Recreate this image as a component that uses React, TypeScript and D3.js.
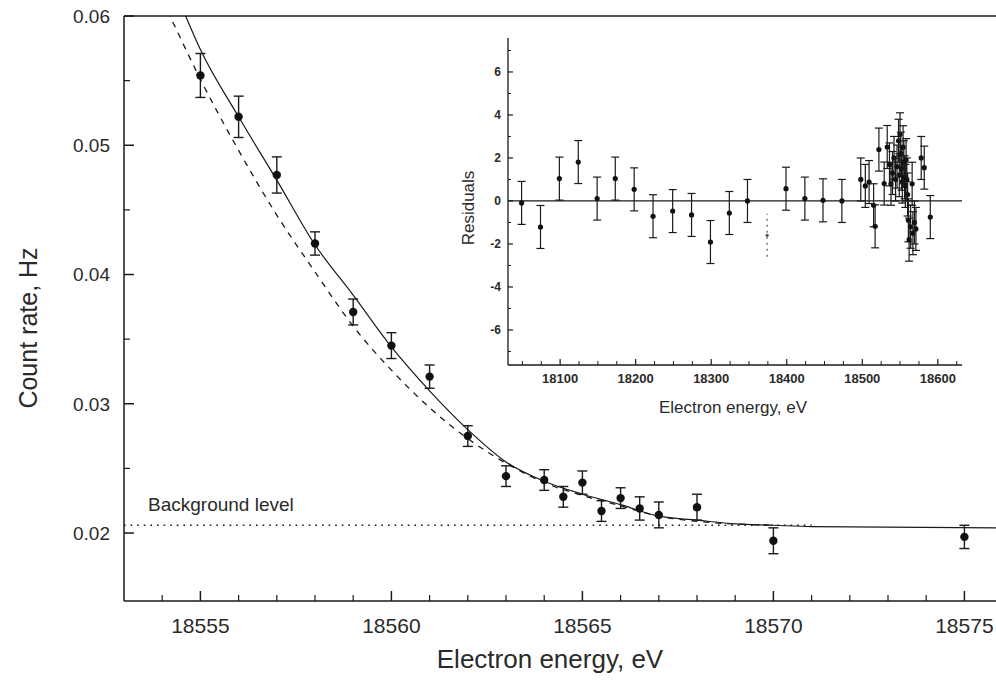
import * as d3 from 'd3';
import React from 'react';

// main panel: measured count rate near the endpoint
const energies = [18555, 18556, 18557, 18558, 18559, 18560, 18561, 18562, 18563, 18564, 18564.5, 18565, 18565.5, 18566, 18566.5, 18567, 18568, 18570, 18575];
const rates = [0.0554, 0.0522, 0.0477, 0.0424, 0.0371, 0.0345, 0.0321, 0.0275, 0.0244, 0.0241, 0.0228, 0.0239, 0.0217, 0.0227, 0.0219, 0.0214, 0.022, 0.0194, 0.0197];
const rateErrors = [0.0017, 0.0016, 0.0014, 0.0009, 0.001, 0.001, 0.0009, 0.0008, 0.0008, 0.0008, 0.0008, 0.0009, 0.0008, 0.0008, 0.0009, 0.001, 0.001, 0.001, 0.0009];

// fitted curves (solid = best fit, dashed = zero mass)
const fitEnergies = [18554.5, 18555, 18556, 18557, 18558, 18559, 18560, 18561, 18562, 18563, 18564, 18565, 18566, 18567, 18568, 18569, 18570, 18571, 18576];
const fitRates = [0.0608, 0.0574, 0.0522, 0.0473, 0.0423, 0.0384, 0.0344, 0.031, 0.028, 0.0255, 0.024, 0.023, 0.0222, 0.0213, 0.021, 0.0207, 0.0206, 0.0205, 0.0204];
const zeroMassEnergies = [18554.0, 18554.2, 18555, 18556, 18557, 18558, 18559, 18560, 18561, 18562, 18563, 18564, 18565, 18566, 18567, 18568, 18569, 18570];
const zeroMassRates = [0.0612, 0.06, 0.0551, 0.0496, 0.0446, 0.0402, 0.036, 0.0326, 0.0297, 0.0273, 0.0254, 0.0239, 0.0229, 0.0221, 0.0213, 0.0209, 0.0207, 0.0206];

const backgroundLevel = 0.0206;
const backgroundEnd = 18571;

const rateTicks = [0.02, 0.03, 0.04, 0.05, 0.06];
const energyTicks = [18555, 18560, 18565, 18570, 18575];

// inset: residuals over the whole scanned range
const resEnergies = [18049, 18074, 18099, 18124, 18149, 18173, 18198, 18223, 18249, 18274, 18299, 18324, 18348, 18374, 18399, 18424, 18448, 18473, 18498, 18504, 18509, 18515, 18517, 18522, 18529, 18533,
  18536, 18538, 18540, 18542, 18544, 18546, 18548, 18549, 18550, 18551, 18552, 18553, 18554, 18555, 18556, 18557, 18558, 18559, 18560, 18561, 18562, 18564, 18566, 18567, 18569, 18571, 18578, 18582, 18590];
const residuals = [-0.09, -1.21, 1.04, 1.81, 0.11, 1.04, 0.54, -0.71, -0.47, -0.65, -1.91, -0.56, 0.0, -1.6, 0.57, 0.11, 0.03, 0.0, 1.0, 0.7, 0.88, -0.2, -1.18, 2.39, 0.81, 2.51,
  1.7, 0.8, 1.3, 2.0, 1.0, 1.6, 2.8, 1.2, 3.1, 2.2, 1.5, 0.9, 2.5, 1.8, 1.1, 0.7, 1.9, 1.0, 0.3, -0.9, -1.8, -1.2, 0.8, -1.5, -1.0, -1.3, 2.0, 1.55, -0.75];
const dottedResidual = 18374;

const resTicks = [-6, -4, -2, 0, 2, 4, 6];
const resEnergyTicks = [18100, 18200, 18300, 18400, 18500, 18600];

const ink = '#1a1a1a';
const textInk = '#2a2a2a';
const font = "'Liberation Sans', Arial, Helvetica, sans-serif";

export default function App() {
  const W = 996;
  const H = 686;

  // main scales
  const x = d3.scaleLinear().domain([18553, 18576]).range([124, 124 + 23 * 38.2]);
  const y = d3.scaleLinear().domain([0.01474, 0.06]).range([601, 16]);
  const left = x.range()[0];
  const bottom = y.range()[0];
  const top = y.range()[1];

  const fitLine = d3
    .line<number>()
    .x((_, i) => x(fitEnergies[i]))
    .y((d) => y(d))
    .curve(d3.curveMonotoneX);
  const zeroLine = d3
    .line<number>()
    .x((_, i) => x(zeroMassEnergies[i]))
    .y((d) => y(d))
    .curve(d3.curveMonotoneX);

  const minorX = d3.range(18554, 18577, 1).filter((v) => v % 5 !== 0);
  const minorY = [0.025, 0.035, 0.045, 0.055];

  // inset scales
  const ix = d3.scaleLinear().domain([18031, 18632]).range([508, 962]);
  const iy = d3.scaleLinear().domain([-7.63, 7.58]).range([365, 38]);
  const iMinorX = d3.range(18050, 18626, 25).filter((v) => v % 100 !== 0);
  const iMinorY = d3.range(-7, 8, 1).filter((v) => v % 2 !== 0);

  return (
    <div style={{ position: 'absolute', left: 0, top: 0, width: W, height: H, background: '#fff' }}>
      <svg width={W} height={H} style={{ display: 'block', fontFamily: font }}>
        <defs>
          <clipPath id="plotClip">
            <rect x={left} y={top} width={W - left} height={bottom - top} />
          </clipPath>
        </defs>

        {/* frame */}
        <line x1={left} x2={W} y1={top} y2={top} stroke={ink} strokeWidth={1.5} />
        <line x1={left} x2={W} y1={bottom} y2={bottom} stroke={ink} strokeWidth={1.5} />
        <line x1={left} x2={left} y1={top} y2={bottom} stroke={ink} strokeWidth={1.5} />

        {/* y ticks */}
        {rateTicks.map((t) => (
          <g key={'yt' + t}>
            <line x1={left} x2={left + 10} y1={y(t)} y2={y(t)} stroke={ink} strokeWidth={1.5} />
            <text x={110} y={y(t)} dy="0.36em" textAnchor="end" fontSize={19} fill={textInk}>
              {t.toFixed(2)}
            </text>
          </g>
        ))}
        {minorY.map((t) => (
          <line key={'ym' + t} x1={left} x2={left + 6} y1={y(t)} y2={y(t)} stroke={ink} strokeWidth={1.2} />
        ))}

        {/* x ticks */}
        {energyTicks.map((t) => (
          <g key={'xt' + t}>
            <line x1={x(t)} x2={x(t)} y1={bottom} y2={bottom - 10} stroke={ink} strokeWidth={1.5} />
            <text x={x(t)} y={633} textAnchor="middle" fontSize={21} fill={textInk}>
              {t}
            </text>
          </g>
        ))}
        {minorX.map((t) => (
          <line key={'xm' + t} x1={x(t)} x2={x(t)} y1={bottom} y2={bottom - 6} stroke={ink} strokeWidth={1.2} />
        ))}

        {/* axis titles */}
        <text x={550} y={668} textAnchor="middle" fontSize={26} fill={textInk}>
          Electron energy, eV
        </text>
        <text
          transform={`translate(37,328) rotate(-90)`}
          textAnchor="middle"
          fontSize={25}
          fill={textInk}
        >
          Count rate, Hz
        </text>

        <g clipPath="url(#plotClip)">
          {/* background level */}
          <line
            x1={left}
            x2={x(backgroundEnd)}
            y1={y(backgroundLevel)}
            y2={y(backgroundLevel)}
            stroke={ink}
            strokeWidth={1.6}
            strokeDasharray="1.6,5"
          />
          <path d={zeroLine(zeroMassRates) || ''} fill="none" stroke={ink} strokeWidth={1.3} strokeDasharray="6,6" />
          <path d={fitLine(fitRates) || ''} fill="none" stroke={ink} strokeWidth={1.2} />

          {/* data */}
          {rates.map((r, i) => {
            const cx = x(energies[i]);
            const y0 = y(r - rateErrors[i]);
            const y1 = y(r + rateErrors[i]);
            return (
              <g key={'p' + i} stroke={ink} strokeWidth={1.4}>
                <line x1={cx} x2={cx} y1={y0} y2={y1} />
                <line x1={cx - 5} x2={cx + 5} y1={y0} y2={y0} />
                <line x1={cx - 5} x2={cx + 5} y1={y1} y2={y1} />
                <circle cx={cx} cy={y(r)} r={4.2} fill="#111" stroke="none" />
              </g>
            );
          })}
        </g>

        <text x={148} y={511} fontSize={19} fill={textInk}>
          Background level
        </text>

        {/* inset */}
        <g>
          <line x1={ix.range()[0]} x2={ix.range()[0]} y1={iy.range()[1]} y2={iy.range()[0]} stroke={ink} strokeWidth={1.3} />
          <line x1={ix.range()[0]} x2={ix.range()[1]} y1={iy.range()[0]} y2={iy.range()[0]} stroke={ink} strokeWidth={1.3} />
          <line x1={ix.range()[0]} x2={ix.range()[1]} y1={iy(0)} y2={iy(0)} stroke={ink} strokeWidth={1.3} />

          {resTicks.map((t) => (
            <g key={'iyt' + t}>
              <line x1={ix.range()[0]} x2={ix.range()[0] + 5} y1={iy(t)} y2={iy(t)} stroke={ink} strokeWidth={1.2} />
              <text x={501} y={iy(t)} dy="0.36em" textAnchor="end" fontSize={12} fill={textInk} fontWeight="bold">
                {t}
              </text>
            </g>
          ))}
          {iMinorY.map((t) => (
            <line key={'iym' + t} x1={ix.range()[0]} x2={ix.range()[0] + 3} y1={iy(t)} y2={iy(t)} stroke={ink} strokeWidth={1} />
          ))}
          {resEnergyTicks.map((t) => (
            <g key={'ixt' + t}>
              <line x1={ix(t)} x2={ix(t)} y1={iy.range()[0]} y2={iy.range()[0] - 6} stroke={ink} strokeWidth={1.2} />
              <text x={ix(t)} y={383} textAnchor="middle" fontSize={13} fill={textInk} fontWeight="bold">
                {t}
              </text>
            </g>
          ))}
          {iMinorX.map((t) => (
            <line key={'ixm' + t} x1={ix(t)} x2={ix(t)} y1={iy.range()[0]} y2={iy.range()[0] - 4} stroke={ink} strokeWidth={1} />
          ))}

          <text x={733} y={413} textAnchor="middle" fontSize={17} fill={textInk}>
            Electron energy, eV
          </text>
          <text transform="translate(474,208) rotate(-90)" textAnchor="middle" fontSize={17} fill={textInk}>
            Residuals
          </text>

          {residuals.map((r, i) => {
            const cx = ix(resEnergies[i]);
            const y0 = iy(r - 1);
            const y1 = iy(r + 1);
            const dotted = resEnergies[i] === dottedResidual;
            return (
              <g key={'r' + i} stroke={dotted ? '#555' : ink} strokeWidth={1.2}>
                <line x1={cx} x2={cx} y1={y0} y2={y1} strokeDasharray={dotted ? '2,4' : undefined} />
                {!dotted && <line x1={cx - 4} x2={cx + 4} y1={y0} y2={y0} />}
                {!dotted && <line x1={cx - 4} x2={cx + 4} y1={y1} y2={y1} />}
                <circle cx={cx} cy={iy(r)} r={dotted ? 1.6 : 2.6} fill={dotted ? '#555' : '#111'} stroke="none" />
              </g>
            );
          })}
        </g>
      </svg>
    </div>
  );
}
